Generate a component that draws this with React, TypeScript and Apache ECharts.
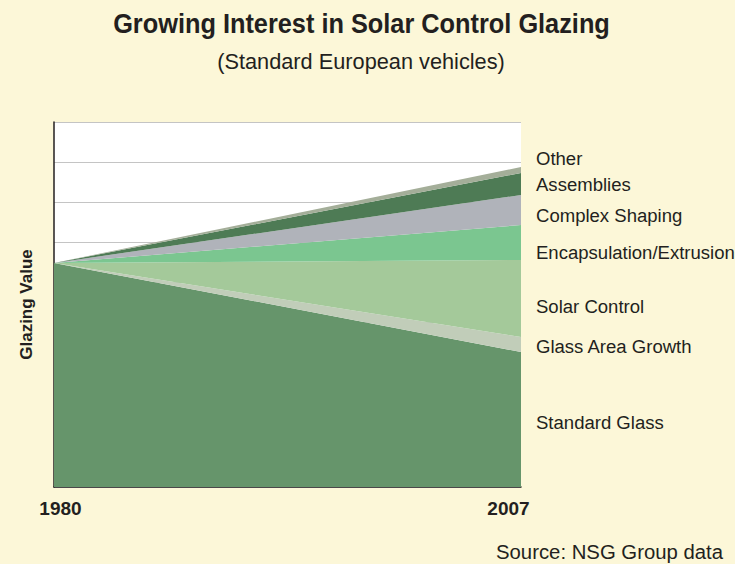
import React, { useEffect, useRef } from "react";
import * as echarts from "echarts";

const years = ["1980", "2007"];
const seriesNames = [
  "Standard Glass",
  "Glass Area Growth",
  "Solar Control",
  "Encapsulation/Extrusion",
  "Complex Shaping",
  "Assemblies",
  "Other",
];
const standardGlass = [224, 135];
const glassAreaGrowth = [0, 15];
const solarControl = [0, 77];
const encapsulation = [0, 35];
const complexShaping = [0, 30];
const assemblies = [0, 22];
const other = [0, 6];
const seriesValues = [standardGlass, glassAreaGrowth, solarControl, encapsulation, complexShaping, assemblies, other];
const colors = ["#66956b", "#c1cdb9", "#a4c99a", "#7bc690", "#b0b3ba", "#4e7b55", "#a4ae99"];
const labelY = [159, 185, 216, 252.5, 307, 347, 423];
const labelOrder = [6, 5, 4, 3, 2, 1, 0];

const titleText = "Growing Interest in Solar Control Glazing";
const subtitleText = "(Standard European vehicles)";
const sourceText = "Source: NSG Group data";

const FONT = "'Liberation Sans', Arial, sans-serif";
const INK = "#231f20";

function measure(text: string, font: string): number {
  const c = document.createElement("canvas");
  const ctx = c.getContext("2d")!;
  ctx.font = font;
  return ctx.measureText(text).width || 1;
}

export default function App() {
  const ref = useRef<HTMLDivElement>(null);
  useEffect(() => {
    const chart = echarts.init(ref.current!, null, { renderer: "svg" });
    const titleScale = 497 / measure(titleText, `bold 28px ${FONT}`);
    const subScale = 288 / measure(subtitleText, `22px ${FONT}`);
    const srcScale = 227 / measure(sourceText, `20px ${FONT}`);
    const lblScale = 199 / measure("Encapsulation/Extrusion", `18px ${FONT}`);
    chart.setOption({
      animation: false,
      backgroundColor: "#fcf7d8",
      grid: { left: 54, right: 214, top: 122, bottom: 77, show: true, backgroundColor: "#ffffff", borderWidth: 0 },
      xAxis: {
        type: "category",
        data: years,
        boundaryGap: false,
        axisLine: { lineStyle: { color: INK, width: 1.5 } },
        axisTick: { show: false },
        axisLabel: {
          margin: 12,
          formatter: (v: string, i: number) => (i === 0 ? `{a|${v}}` : `{b|${v}}`),
          rich: {
            a: { fontFamily: FONT, fontWeight: "bold", fontSize: 19, color: INK, padding: [0, 0, 0, 13] },
            b: { fontFamily: FONT, fontWeight: "bold", fontSize: 19, color: INK, padding: [0, 25, 0, 0] },
          },
        },
        splitLine: { show: false },
      },
      yAxis: [
        {
          type: "value",
          min: 0,
          max: 365,
          name: "Glazing Value",
          nameLocation: "middle",
          nameGap: 19,
          nameTextStyle: { fontFamily: FONT, fontWeight: "bold", fontSize: 17, color: INK },
          axisLine: { show: true, lineStyle: { color: INK, width: 1.5 } },
          axisTick: { show: false },
          axisLabel: { show: false },
          splitLine: { show: false },
        },
        {
          type: "value",
          inverse: true,
          min: 0,
          max: 365,
          interval: 40,
          axisLine: { show: false },
          axisTick: { show: false },
          axisLabel: { show: false },
          splitLine: { show: true, lineStyle: { color: "#c4c4c4", width: 1 } },
        },
      ],
      graphic: [
        {
          type: "text",
          x: 361.5,
          y: 24,
          scaleX: titleScale,
          originX: 0,
          style: { text: titleText, fontFamily: FONT, fontWeight: "bold", fontSize: 28, fill: INK, align: "center", verticalAlign: "middle" },
        },
        {
          type: "text",
          x: 361,
          y: 61,
          scaleX: subScale,
          style: { text: subtitleText, fontFamily: FONT, fontSize: 22, fill: INK, align: "center", verticalAlign: "middle" },
        },
        {
          type: "text",
          x: 723,
          y: 552,
          scaleX: srcScale,
          style: { text: sourceText, fontFamily: FONT, fontSize: 20, fill: INK, align: "right", verticalAlign: "middle" },
        },
        ...labelOrder.map((si, i) => ({
          type: "text",
          x: 536,
          y: labelY[i],
          scaleX: lblScale,
          style: { text: seriesNames[si], fontFamily: FONT, fontSize: 18, fill: INK, align: "left", verticalAlign: "middle" },
        })),
      ],
      series: seriesNames.map((n, i) => ({
        name: n,
        type: "line",
        stack: "total",
        data: seriesValues[i],
        symbol: "none",
        lineStyle: { width: 0 },
        areaStyle: { color: colors[i], opacity: 1 },
        z: 3,
      })),
    });
    return () => chart.dispose();
  }, []);
  return <div ref={ref} style={{ position: "fixed", left: 0, top: 0, width: 735, height: 564 }} />;
}
